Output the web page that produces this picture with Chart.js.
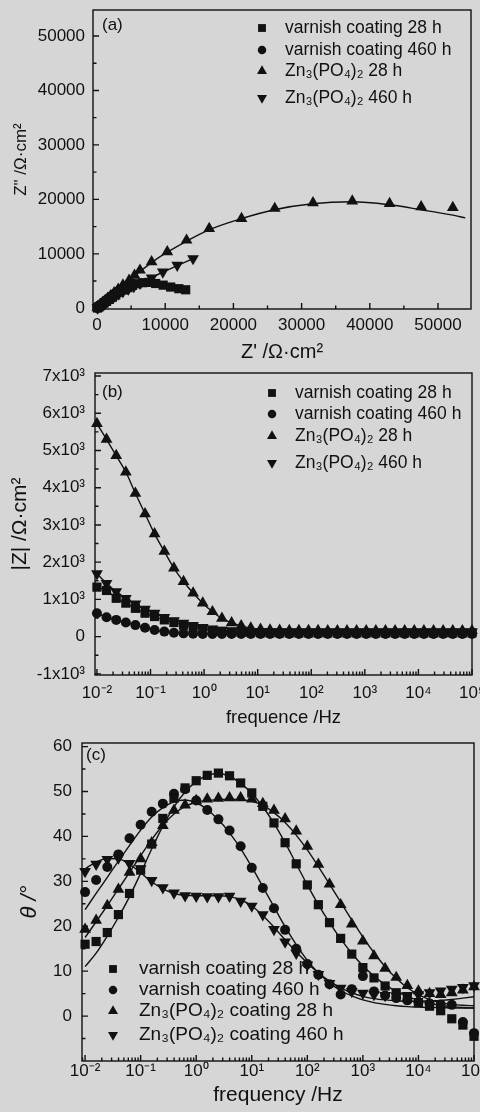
<!DOCTYPE html>
<html lang="zh">
<head>
<meta charset="utf-8">
<title>EIS</title>
<script src="https://cdn.jsdelivr.net/npm/chart.js@4.4.1/dist/chart.umd.min.js"></script>
<style>
  html, body { margin: 0; padding: 0; background: #d6d6d6; }
  #page { position: relative; width: 480px; height: 1112px; overflow: hidden; }
  #page canvas { position: absolute; left: 0; }
</style>
</head>
<body>
<div id="page">
  <canvas id="chartA" width="480" height="365" style="top:0"></canvas>
  <canvas id="chartB" width="480" height="365" style="top:365px"></canvas>
  <canvas id="chartC" width="480" height="382" style="top:730px"></canvas>
</div>
<script>
// ---- data ----

// (a) Nyquist : Z' / Z'' (ohm.cm2)
const nyqVarnish28Re = [60, 150, 300, 500, 750, 1050, 1400, 1800, 2250, 2750, 3300, 3900, 4550, 5200, 5900, 6700, 7600, 8600, 9700, 10800, 12000, 13000];
const nyqVarnish28Im = [60, 150, 290, 470, 700, 970, 1280, 1630, 2020, 2450, 2900, 3350, 3800, 4200, 4500, 4700, 4750, 4550, 4250, 3900, 3600, 3400];
const nyqVarnish460Re = [50, 130, 250, 400, 580, 800, 1050, 1350, 1700, 2100, 2550, 3050, 3600, 4150, 4700, 5200];
const nyqVarnish460Im = [70, 170, 310, 480, 690, 930, 1200, 1510, 1860, 2250, 2670, 3100, 3550, 3950, 4300, 4550];
const nyqZn28Re = [60, 150, 280, 450, 650, 900, 1200, 1550, 2000, 2500, 3100, 3800, 4700, 5500, 6300, 8000, 10300, 13130, 16450, 21190, 26060, 31670, 37430, 42900, 47530, 52170];
const nyqZn28Im = [80, 190, 340, 540, 780, 1060, 1400, 1800, 2300, 2850, 3500, 4250, 5150, 6050, 6990, 8520, 10350, 12500, 14640, 16490, 18330, 19360, 19670, 19240, 18620, 18510];
const nyqZn460Re = [60, 150, 280, 450, 650, 900, 1200, 1550, 2000, 2500, 3100, 3800, 4600, 5400, 6300, 8000, 9650, 11760, 14080];
const nyqZn460Im = [80, 180, 320, 490, 690, 920, 1180, 1480, 1830, 2200, 2620, 3080, 3550, 4000, 4600, 5580, 6680, 7900, 9130];
// fitted curves
const nyqZn28FitRe = [0, 1000, 2500, 4500, 6500, 8500, 10500, 13100, 16400, 21000, 26000, 31600, 37400, 42900, 47500, 52200, 54000];
const nyqZn28FitIm = [0, 1150, 2850, 4950, 6950, 8850, 10450, 12300, 14400, 16400, 18100, 19200, 19550, 19000, 18100, 17100, 16600];
const nyqZn460FitRe = [0, 1500, 3000, 4500, 6300, 8000, 9650, 11760, 14500];
const nyqZn460FitIm = [0, 1800, 3200, 4150, 4750, 5650, 6650, 7850, 9350];

// (b) |Z| vs frequency
const freqB = [0.01, 0.0151, 0.0229, 0.0346, 0.0522, 0.079, 0.119, 0.181, 0.273, 0.413,
  0.624, 0.943, 1.43, 2.15, 3.26, 4.92, 7.44, 11.3, 17.0, 25.7,
  38.9, 58.8, 88.9, 134, 203, 307, 464, 702, 1061, 1604,
  2424, 3665, 5541, 8377, 12664, 19144, 28942, 43753, 66143, 100000];
const modVarnish28 = [1330, 1240, 1030, 900, 760, 630, 540, 450, 380, 310,
  250, 200, 165, 140, 125, 115, 108, 104, 102, 101,
  100, 100, 100, 100, 100, 100, 100, 100, 100, 100,
  100, 100, 100, 100, 100, 100, 100, 100, 100, 100];
const modVarnish460 = [630, 520, 450, 380, 310, 240, 180, 135, 105, 88,
  78, 73, 71, 70, 70, 70, 70, 70, 70, 70,
  70, 70, 70, 70, 70, 70, 70, 70, 70, 70,
  70, 70, 70, 70, 70, 70, 70, 70, 70, 70];
const modZn28 = [5720, 5300, 4860, 4420, 3850, 3300, 2760, 2290, 1840, 1480,
  1170, 900, 670, 490, 370, 290, 230, 195, 178, 170,
  165, 163, 162, 161, 160, 160, 160, 160, 160, 160,
  160, 160, 160, 160, 160, 160, 160, 160, 160, 160];
const modZn460 = [1690, 1430, 1210, 1030, 880, 740, 630, 520, 430, 360,
  300, 250, 205, 172, 152, 141, 135, 132, 131, 130,
  130, 130, 130, 130, 130, 130, 130, 130, 130, 130,
  130, 130, 130, 130, 130, 130, 130, 130, 130, 130];

// (c) phase angle vs frequency
const freqC = [0.01, 0.0158, 0.0251, 0.0398, 0.0631, 0.1, 0.158, 0.251, 0.398, 0.631,
  1, 1.58, 2.51, 3.98, 6.31, 10, 15.8, 25.1, 39.8, 63.1,
  100, 158, 251, 398, 631, 1000, 1585, 2512, 3981, 6310,
  10000, 15849, 25119, 39811, 63096, 100000];
const phaseVarnish28 = [16, 16.6, 18.6, 22.6, 27.3, 32.5, 38.3, 44, 48.5, 50.8,
  52.4, 53.6, 54.1, 53.5, 51.9, 49.7, 46.7, 43, 38.6, 33.9,
  29.2, 24.8, 20.8, 17.3, 13.8, 10.8, 8.5, 6.7, 5.2, 4,
  3, 2.2, 1.2, -0.6, -2, -4.5];
const phaseVarnish28Fit = [11, 14, 17.8, 22, 26.6, 31.8, 37.2, 42.3, 46.6, 49.9,
  52.2, 53.6, 54, 53.4, 51.8, 49.6, 46.6, 42.9, 38.6, 33.9,
  29.2, 24.8, 20.8, 17.2, 14, 11.2, 8.9, 7, 5.5, 4.4,
  3.5, 2.9, 2.4, 2.1, 1.9, 1.8];
const phaseVarnish460 = [27.6, 30.3, 33.2, 36, 39.6, 42.6, 45.5, 47.3, 49.5, 50.5,
  48, 45.9, 43.8, 41.3, 37.8, 33, 28.5, 24, 19.2, 15,
  11.6, 9.2, 7.1, 4.8, 6, 8.9, 5.5, 4.6, 4, 3.5,
  3.1, 2.8, 2.6, 2.5, -1.3, -3.8];
const phaseVarnish460Fit = [23.7, 27.3, 30.9, 34.5, 38, 41.4, 44.3, 46.4, 47.7, 48.1,
  47.5, 46, 43.7, 40.8, 37.3, 33.2, 28.8, 24.3, 19.9, 15.9,
  12.4, 9.6, 7.4, 5.7, 4.5, 3.6, 3, 2.6, 2.3, 2.1,
  2, 1.9, 1.9, 1.8, 1.8, 1.8];
const phaseZn28 = [19.3, 21.3, 24.6, 28.2, 32, 35, 38.6, 42.4, 45.8, 47,
  48, 48.3, 48.5, 48.6, 48.6, 48.3, 47.3, 45.8, 43.9, 41.2,
  37.8, 33.8, 29.4, 24.8, 20.5, 16.7, 13.4, 10.6, 8.6, 6.8,
  5.6, 5, 4.8, 5.2, 5.8, 6.5];
const phaseZn28Fit = [17.5, 21, 24.6, 28.3, 32, 35.7, 39.3, 42.5, 45, 46.7,
  47.6, 48, 48.2, 48.3, 48.2, 47.8, 46.9, 45.3, 43.1, 40.3,
  37, 33.3, 29.4, 25.4, 21.4, 17.6, 14.1, 11, 8.4, 6.3,
  4.8, 3.7, 3, 2.6, 2.4, 2.3];
const phaseZn460 = [32.2, 33.8, 34.9, 35.2, 34, 32.8, 30.2, 28.6, 27.4, 26.8,
  26.7, 26.6, 26.6, 26.7, 25.6, 24.5, 22.6, 19.3, 16.5, 14,
  11.4, 9.3, 7.3, 6.2, 5.5, 5.1, 4.8, 4.6, 4.5, 4.6,
  4.8, 5.2, 5.6, 6, 6.4, 6.8];
const phaseZn460Fit = [32.8, 34.3, 35.1, 35, 33.8, 31.9, 29.9, 28.3, 27.3, 26.9,
  26.8, 26.8, 26.8, 26.6, 25.9, 24.5, 22.4, 19.8, 17, 14.3,
  11.8, 9.6, 7.8, 6.3, 5.2, 4.4, 3.9, 3.6, 3.4, 3.3,
  3.3, 3.4, 3.5, 3.7, 4, 4.3];

// labels and ticks
const labelsAB = ['varnish coating 28 h', 'varnish coating 460 h', 'Zn₃(PO₄)₂ 28 h', 'Zn₃(PO₄)₂ 460 h'];
const labelsC = ['varnish coating 28 h', 'varnish coating 460 h', 'Zn₃(PO₄)₂ coating 28 h', 'Zn₃(PO₄)₂ coating 460 h'];
const nyqTicks = [0, 10000, 20000, 30000, 40000, 50000];
const nyqTickLabels = ['0', '10000', '20000', '30000', '40000', '50000'];
const modTicks = [-1000, 0, 1000, 2000, 3000, 4000, 5000, 6000, 7000];
const modTickLabels = ['-1x10³', '0', '1x10³', '2x10³', '3x10³', '4x10³', '5x10³', '6x10³', '7x10³'];
const phaseTicks = [-10, 0, 10, 20, 30, 40, 50, 60];
const phaseTickLabels = ['-10', '0', '10', '20', '30', '40', '50', '60'];
const freqTicks = [0.01, 0.1, 1, 10, 100, 1000, 10000, 100000];
const freqTickLabels = ['10⁻²', '10⁻¹', '10⁰', '10¹', '10²', '10³', '10⁴', '10⁵'];

// ---- styles & helpers ----
const INK = '#111';
const FONT = "'Liberation Sans', Arial, sans-serif";
const FS = 17;
Chart.defaults.font.family = FONT;
Chart.defaults.color = INK;

const MARKERS = [
  { pointStyle: 'rect', pointRadius: 6.5, pointRotation: 0 },
  { pointStyle: 'circle', pointRadius: 5, pointRotation: 0 },
  { pointStyle: 'triangle', pointRadius: 6.8, pointRotation: 0 },
  { pointStyle: 'triangle', pointRadius: 6.8, pointRotation: 180 }
];

const pts = (xs, ys) => xs.map((x, i) => ({ x, y: ys[i] }));

function markerSet(label, data, k, withLine) {
  return Object.assign({
    label, data,
    showLine: !!withLine,
    borderColor: INK, borderWidth: 1.4,
    cubicInterpolationMode: 'monotone',
    pointBackgroundColor: INK, pointBorderWidth: 0,
    clip: false
  }, MARKERS[k]);
}

function fitSet(data) {
  return {
    data, showLine: true, pointRadius: 0,
    borderColor: INK, borderWidth: 1.4,
    cubicInterpolationMode: 'monotone', clip: 0
  };
}

function linearSteps(from, to, step) {
  const out = [];
  for (let v = from; v <= to + 1e-9; v += step) out.push(Math.round(v * 1000) / 1000);
  return out;
}

function logSteps(e0, e1) {
  const out = [];
  for (let e = e0; e <= e1; e++) {
    for (let m = 1; m < 10; m++) out.push(m * Math.pow(10, e));
  }
  return out;
}

const near = (a, b) => Math.abs(a - b) <= Math.abs(b) * 1e-6 + 1e-9;

function axis(o) {
  const bottom = o.position === 'bottom';
  return {
    type: o.type || 'linear',
    position: o.position,
    min: o.min, max: o.max, bounds: 'data',
    grid: { display: false, drawTicks: false },
    border: { display: false },
    afterBuildTicks: s => {
      s.ticks = o.all
        .filter(v => v >= s.min * (1 - 1e-9) - 1e-9 && v <= s.max * (1 + 1e-9) + 1e-9)
        .map(v => ({ value: v, major: o.major.some(m => near(v, m)) }));
    },
    afterFit: s => {
      if (bottom) s.height = o.size; else s.width = o.size;
      s.paddingLeft = s.paddingRight = s.paddingTop = s.paddingBottom = 0;
    },
    ticks: {
      autoSkip: false, maxRotation: 0, minRotation: 0,
      padding: o.tickPad, color: INK, font: { size: FS },
      callback: v => {
        const i = o.major.findIndex(m => near(v, m));
        return i < 0 ? '' : o.labels[i];
      }
    },
    title: {
      display: true, text: o.title, color: INK,
      font: { size: o.titleSize || FS, style: o.italic ? 'italic' : 'normal' },
      padding: bottom ? { top: 0, bottom: o.titlePad } : { top: o.titlePad, bottom: 0 }
    }
  };
}

// frame + inward tick marks
const frameTicks = {
  id: 'frameTicks',
  beforeDatasetsDraw(chart) {
    const { ctx, chartArea: a } = chart;
    const sx = chart.scales.x, sy = chart.scales.y;
    ctx.save();
    ctx.strokeStyle = INK;
    ctx.lineWidth = 1.4;
    ctx.strokeRect(a.left, a.top, a.right - a.left, a.bottom - a.top);
    ctx.beginPath();
    sx.ticks.forEach(t => {
      const px = sx.getPixelForValue(t.value);
      if (px < a.left - 1 || px > a.right + 1) return;
      ctx.moveTo(px, a.bottom);
      ctx.lineTo(px, a.bottom - (t.major ? 6 : 3.5));
    });
    sy.ticks.forEach(t => {
      const py = sy.getPixelForValue(t.value);
      if (py < a.top - 1 || py > a.bottom + 1) return;
      ctx.moveTo(a.left, py);
      ctx.lineTo(a.left + (t.major ? 6 : 3.5), py);
    });
    ctx.stroke();
    ctx.restore();
  }
};

// legend inside the plot + panel letter
const insetLegend = {
  id: 'insetLegend',
  afterDatasetsDraw(chart, args, opts) {
    const ctx = chart.ctx;
    ctx.save();
    ctx.fillStyle = INK;
    ctx.textBaseline = 'middle';
    ctx.textAlign = 'left';
    ctx.font = FS + 'px ' + FONT;
    ctx.fillText(opts.panel, opts.panelX, opts.panelY);
    ctx.font = opts.size + 'px ' + FONT;
    chart.data.datasets.filter(d => d.label).forEach((d, i) => {
      const y = opts.rows[i];
      ctx.beginPath();
      Chart.helpers.drawPoint(ctx, {
        pointStyle: d.pointStyle, rotation: d.pointRotation,
        radius: d.pointRadius * 0.85, borderWidth: 0
      }, opts.markerX, y);
      ctx.fillText(d.label, opts.textX, y);
    });
    ctx.restore();
  }
};

function baseOptions(padding, scales, legendOpts) {
  return {
    responsive: false,
    animation: false,
    events: [],
    layout: { padding, autoPadding: false },
    scales,
    plugins: {
      legend: { display: false },
      tooltip: { enabled: false },
      insetLegend: legendOpts
    }
  };
}

// ---- (a) ----
new Chart(document.getElementById('chartA'), {
  type: 'scatter',
  data: {
    datasets: [
      markerSet(labelsAB[0], pts(nyqVarnish28Re, nyqVarnish28Im), 0, true),
      markerSet(labelsAB[1], pts(nyqVarnish460Re, nyqVarnish460Im), 1, true),
      markerSet(labelsAB[2], pts(nyqZn28Re, nyqZn28Im), 2),
      markerSet(labelsAB[3], pts(nyqZn460Re, nyqZn460Im), 3),
      fitSet(pts(nyqZn28FitRe, nyqZn28FitIm)),
      fitSet(pts(nyqZn460FitRe, nyqZn460FitIm))
    ]
  },
  options: baseOptions({ left: 0, right: 9, top: 10, bottom: 0 }, {
    x: axis({ position: 'bottom', min: -590, max: 54840, major: nyqTicks, labels: nyqTickLabels,
      all: linearSteps(0, 55000, 5000), size: 56, tickPad: 5.8, title: "Z' /Ω·cm²", titleSize: 20, titlePad: 1 }),
    y: axis({ position: 'left', min: -130, max: 54770, major: nyqTicks, labels: nyqTickLabels,
      all: linearSteps(0, 55000, 5000), size: 93, tickPad: 8, title: 'Z" /Ω·cm²', titlePad: 10.8 })
  }, { panel: '(a)', panelX: 102, panelY: 25, markerX: 262, textX: 285, rows: [28, 50, 71, 98], size: 17.5 }),
  plugins: [frameTicks, insetLegend]
});

// ---- (b) ----
new Chart(document.getElementById('chartB'), {
  type: 'scatter',
  data: {
    datasets: [
      markerSet(labelsAB[0], pts(freqB, modVarnish28), 0, true),
      markerSet(labelsAB[1], pts(freqB, modVarnish460), 1, true),
      markerSet(labelsAB[2], pts(freqB, modZn28), 2, true),
      markerSet(labelsAB[3], pts(freqB, modZn460), 3, true)
    ]
  },
  options: baseOptions({ left: 0, right: 8, top: 8, bottom: 0 }, {
    x: axis({ type: 'logarithmic', position: 'bottom', min: 0.0092, max: 100000, major: freqTicks, labels: freqTickLabels,
      all: logSteps(-3, 5), size: 55, tickPad: 7.8, title: 'frequence /Hz', titleSize: 18.5, titlePad: 0.9 }),
    y: axis({ position: 'left', min: -1030, max: 7080, major: modTicks, labels: modTickLabels,
      all: linearSteps(-1000, 7000, 500), size: 95, tickPad: 10, title: '|Z| /Ω·cm²', titleSize: 21, titlePad: 7.4 })
  }, { panel: '(b)', panelX: 102, panelY: 27, markerX: 272, textX: 295, rows: [28, 49, 71, 98], size: 17.5 }),
  plugins: [frameTicks, insetLegend]
});

// ---- (c) ----
new Chart(document.getElementById('chartC'), {
  type: 'scatter',
  data: {
    datasets: [
      markerSet(labelsC[0], pts(freqC, phaseVarnish28), 0),
      markerSet(labelsC[1], pts(freqC, phaseVarnish460), 1),
      markerSet(labelsC[2], pts(freqC, phaseZn28), 2),
      markerSet(labelsC[3], pts(freqC, phaseZn460), 3),
      fitSet(pts(freqC, phaseVarnish28Fit)),
      fitSet(pts(freqC, phaseVarnish460Fit)),
      fitSet(pts(freqC, phaseZn28Fit)),
      fitSet(pts(freqC, phaseZn460Fit))
    ]
  },
  options: baseOptions({ left: 0, right: 6, top: 13, bottom: 0 }, {
    x: axis({ type: 'logarithmic', position: 'bottom', min: 0.0088, max: 100000, major: freqTicks, labels: freqTickLabels,
      all: logSteps(-3, 5), size: 51, tickPad: 0.5, title: 'frequency /Hz', titleSize: 21, titlePad: 4.4 }),
    y: axis({ position: 'left', min: -10, max: 60.8, major: phaseTicks, labels: phaseTickLabels,
      all: linearSteps(-10, 60, 5), size: 82, tickPad: 10, title: 'θ /°', titleSize: 22, titlePad: 16.8, italic: true })
  }, { panel: '(c)', panelX: 86, panelY: 25, markerX: 113, textX: 139, rows: [239, 260, 281, 305], size: 19 }),
  plugins: [frameTicks, insetLegend]
});
</script>
</body>
</html>
